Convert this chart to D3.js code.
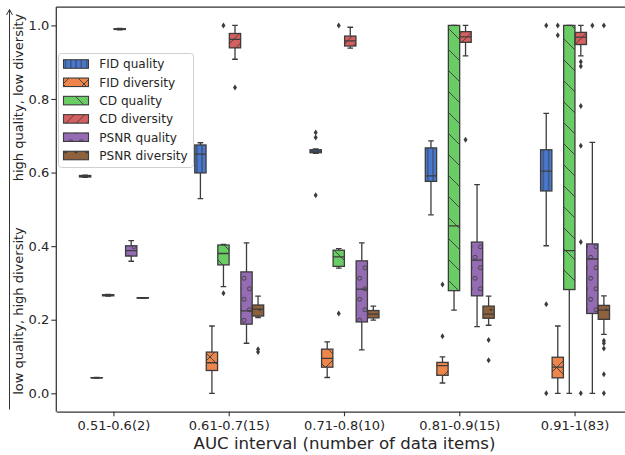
<!DOCTYPE html>
<html>
<head>
<meta charset="utf-8">
<script src="https://cdn.jsdelivr.net/npm/d3@7"></script>
<style>
  body { margin: 0; background: #fff; }
  svg text { font-family: "DejaVu Sans", sans-serif; fill: #262626; }
</style>
</head>
<body>
<div id="chart"></div>
<script>
// Categories and series
const groups = ["0.51-0.6(2)", "0.61-0.7(15)", "0.71-0.8(10)", "0.81-0.9(15)", "0.91-1(83)"];
const seriesNames = ["FID quality", "FID diversity", "CD quality", "CD diversity", "PSNR quality", "PSNR diversity"];
const seriesColors = ["#4878d0", "#ee854a", "#6acc64", "#d65f5f", "#956cb4", "#8c613c"];
const seriesHatch = ["vert", "cross", "back", "fwd", "circ", "dot"];

// box stats per group: [whisker low, q1, median, q3, whisker high]
const fidQuality = [
    [0.587, 0.588, 0.590, 0.592, 0.593],
    [0.529, 0.599, 0.650, 0.675, 0.681],
    [0.652, 0.654, 0.658, 0.662, 0.664],
    [0.485, 0.576, 0.591, 0.667, 0.686],
    [0.401, 0.550, 0.604, 0.662, 0.761]
];
const fidDiversity = [
    [0.0415, 0.042, 0.042, 0.0425, 0.043],
    [0.000, 0.062, 0.083, 0.112, 0.183],
    [0.043, 0.071, 0.095, 0.120, 0.140],
    [0.028, 0.049, 0.075, 0.084, 0.099],
    [0.000, 0.042, 0.071, 0.098, 0.183]
];
const cdQuality = [
    [0.264, 0.265, 0.266, 0.268, 0.269],
    [0.290, 0.349, 0.380, 0.403, 0.405],
    [0.340, 0.345, 0.371, 0.389, 0.393],
    [0.226, 0.279, 0.455, 1.000, 1.000],
    [0.000, 0.282, 0.388, 1.000, 1.000]
];
const cdDiversity = [
    [0.988, 0.989, 0.990, 0.991, 0.992],
    [0.908, 0.939, 0.962, 0.978, 1.000],
    [0.938, 0.944, 0.958, 0.971, 0.995],
    [0.917, 0.954, 0.969, 0.983, 1.000],
    [0.917, 0.948, 0.968, 0.981, 1.000]
];
const psnrQuality = [
    [0.359, 0.373, 0.388, 0.401, 0.415],
    [0.136, 0.188, 0.224, 0.330, 0.409],
    [0.118, 0.194, 0.283, 0.360, 0.409],
    [0.181, 0.265, 0.362, 0.411, 0.567],
    [0.000, 0.217, 0.365, 0.406, 0.682]
];
const psnrDiversity = [
    [0.258, 0.259, 0.259, 0.260, 0.260],
    [0.206, 0.210, 0.229, 0.240, 0.264],
    [0.199, 0.205, 0.215, 0.225, 0.237],
    [0.185, 0.204, 0.215, 0.237, 0.264],
    [0.160, 0.201, 0.226, 0.239, 0.265]
];

// outliers per group
const fidQualityOut = [[], [], [0.709, 0.695, 0.538], [], [1.0, 0.242, 0.0]];
const fidDiversityOut = [[], [], [], [0.155, 0.296], [1.0, 0.973]];
const cdQualityOut = [[], [0.272, 1.0], [0.217, 1.0], [], []];
const cdDiversityOut = [[], [0.831], [], [0.689], [0.901, 0.889, 0.781, 0.673, 0.411, 0.0]];
const psnrQualityOut = [[], [], [], [], [1.0]];
const psnrDiversityOut = [[], [0.120, 0.112], [], [0.145, 0.090], [1.0, 0.143, 0.136, 0.122, 0.052, 0.0]];

const yTicks = [0, 0.2, 0.4, 0.6, 0.8, 1.0];

const stats = [fidQuality, fidDiversity, cdQuality, cdDiversity, psnrQuality, psnrDiversity];
const outs = [fidQualityOut, fidDiversityOut, cdQualityOut, cdDiversityOut, psnrQualityOut, psnrDiversityOut];

const width = 625, height = 455;
const plot = {left: 56.3, right: 632.7, top: 7, bottom: 411.7};
const edge = "#3c3c3c";

const svg = d3.select("#chart").append("svg")
    .attr("width", width)
    .attr("height", height);

// hatch patterns
const defs = svg.append("defs");
function pattern(id, w, h) {
    return defs.append("pattern").attr("id", id)
        .attr("patternUnits", "userSpaceOnUse")
        .attr("width", w).attr("height", h);
}
const hs = {stroke: edge, "stroke-width": 0.9, fill: "none"};
function styled(sel, s) { Object.entries(s).forEach(([k, v]) => sel.attr(k, v)); return sel; }

styled(pattern("vert", 5.25, 5.25).append("path").attr("d", "M2.6,0V5.25"), hs);
styled(pattern("cross", 21, 21).append("path")
    .attr("d", "M0,0L21,21M0,21L21,0M-1,-1L1,1M20,20L22,22M-1,22L1,20M20,1L22,-1"), hs);
styled(pattern("back", 21, 21).append("path")
    .attr("d", "M0,0L21,21M-1,20L1,22M20,-1L22,1"), hs);
styled(pattern("fwd", 10.5, 10.5).append("path")
    .attr("d", "M0,10.5L10.5,0M-1,1L1,-1M9.5,11.5L11.5,9.5"), hs);
const pc = pattern("circ", 10.5, 21);
[[2.6, 5.25], [7.9, 15.75]].forEach(p => {
    styled(pc.append("circle").attr("cx", p[0]).attr("cy", p[1]).attr("r", 2), hs);
});
const pd = pattern("dot", 10.5, 21);
[[2.6, 5.25], [7.9, 15.75]].forEach(p => {
    pd.append("circle").attr("cx", p[0]).attr("cy", p[1]).attr("r", 1.3).attr("fill", edge);
});

// scales
const x = d3.scaleBand().domain(groups).range([plot.left, plot.right]).padding(0);
const bw = x.bandwidth();
const xHue = d3.scaleBand().domain(seriesNames).range([-0.3 * bw, 0.3 * bw]);
const boxW = xHue.bandwidth() * 0.98;
const y = d3.scaleLinear().domain([-0.05, 1.05]).range([plot.bottom, plot.top]);

const clipId = "plotclip";
defs.append("clipPath").attr("id", clipId).append("rect")
    .attr("x", plot.left).attr("y", plot.top)
    .attr("width", plot.right - plot.left).attr("height", plot.bottom - plot.top);

const g = svg.append("g").attr("clip-path", `url(#${clipId})`);

seriesNames.forEach((name, si) => {
    groups.forEach((grp, gi) => {
        const [lo, q1, med, q3, hi] = stats[si][gi];
        const cx = x(grp) + bw / 2 + xHue(name) + xHue.bandwidth() / 2;
        const bx = cx - boxW / 2;
        const box = g.append("g");

        // whiskers
        box.append("line").attr("x1", cx).attr("x2", cx).attr("y1", y(q3)).attr("y2", y(hi))
            .attr("stroke", edge).attr("stroke-width", 1.3);
        box.append("line").attr("x1", cx).attr("x2", cx).attr("y1", y(q1)).attr("y2", y(lo))
            .attr("stroke", edge).attr("stroke-width", 1.3);
        [lo, hi].forEach(v => {
            box.append("line").attr("x1", cx - boxW / 4).attr("x2", cx + boxW / 4)
                .attr("y1", y(v)).attr("y2", y(v))
                .attr("stroke", edge).attr("stroke-width", 1.3);
        });

        // box body, hatch, outline
        const bh = Math.max(y(q1) - y(q3), 0);
        box.append("rect").attr("x", bx).attr("y", y(q3)).attr("width", boxW).attr("height", bh)
            .attr("fill", seriesColors[si]);
        box.append("rect").attr("x", bx).attr("y", y(q3)).attr("width", boxW).attr("height", bh)
            .attr("fill", `url(#${seriesHatch[si]})`);
        box.append("rect").attr("x", bx).attr("y", y(q3)).attr("width", boxW).attr("height", bh)
            .attr("fill", "none").attr("stroke", edge).attr("stroke-width", 1.3);

        // median
        box.append("line").attr("x1", bx).attr("x2", bx + boxW).attr("y1", y(med)).attr("y2", y(med))
            .attr("stroke", edge).attr("stroke-width", 1.3);

        // fliers
        outs[si][gi].forEach(v => {
            const py = y(v);
            box.append("path")
                .attr("d", `M${cx},${py - 3}L${cx + 2},${py}L${cx},${py + 3}L${cx - 2},${py}Z`)
                .attr("fill", edge);
        });
    });
});

// axes
const yAxis = svg.append("g")
    .attr("transform", `translate(${plot.left},0)`)
    .call(d3.axisLeft(y).tickValues(yTicks).tickFormat(d3.format(".1f"))
        .tickSize(5).tickPadding(2).tickSizeOuter(0));
const xAxis = svg.append("g")
    .attr("transform", `translate(0,${plot.bottom})`)
    .call(d3.axisBottom(x).tickSize(4.5).tickPadding(5).tickSizeOuter(0));

[yAxis, xAxis].forEach(a => {
    a.selectAll("text").style("font-size", "13px").attr("fill", "#262626");
    a.selectAll("line").attr("stroke", "#333").attr("stroke-width", 1.1);
    a.select(".domain").attr("stroke", "#333").attr("stroke-width", 1.25);
});
yAxis.select(".domain").attr("d", `M0,${plot.bottom}V${plot.top}`);

// top spine
svg.append("line").attr("x1", plot.left).attr("x2", plot.right)
    .attr("y1", plot.top).attr("y2", plot.top)
    .attr("stroke", "#333").attr("stroke-width", 1.25);

// x label
svg.append("text")
    .attr("x", (plot.left + plot.right) / 2).attr("y", 449)
    .attr("text-anchor", "middle")
    .style("font-size", "16.6px")
    .text("AUC interval (number of data items)");

// y labels with arrow
svg.append("text")
    .attr("transform", `translate(23,97.5) rotate(-90)`)
    .attr("text-anchor", "middle")
    .style("font-size", "13px")
    .text("high quality, low diversity");
svg.append("text")
    .attr("transform", `translate(23,311) rotate(-90)`)
    .attr("text-anchor", "middle")
    .style("font-size", "13px")
    .text("low quality, high diversity");
svg.append("line").attr("x1", 9.5).attr("x2", 9.5).attr("y1", 409.5).attr("y2", 10)
    .attr("stroke", "#333").attr("stroke-width", 1);
svg.append("path").attr("d", "M6.5,15L9.5,9.5L12.5,15")
    .attr("fill", "none").attr("stroke", "#333").attr("stroke-width", 1);

// legend
const legend = svg.append("g");
legend.append("rect")
    .attr("x", 58.5).attr("y", 53.5).attr("width", 135).attr("height", 114).attr("rx", 3)
    .attr("fill", "#fff").attr("fill-opacity", 0.8)
    .attr("stroke", "#d0d0d0").attr("stroke-width", 1);
seriesNames.forEach((name, i) => {
    const cy = 64 + i * 18.3;
    const row = legend.append("g");
    row.append("rect").attr("x", 63.5).attr("y", cy - 4.25).attr("width", 25).attr("height", 8.5)
        .attr("fill", seriesColors[i]);
    row.append("rect").attr("x", 63.5).attr("y", cy - 4.25).attr("width", 25).attr("height", 8.5)
        .attr("fill", `url(#${seriesHatch[i]})`)
        .attr("stroke", edge).attr("stroke-width", 1.1);
    row.append("text").attr("x", 99.3).attr("y", cy + 4.3)
        .style("font-size", "12.1px")
        .text(name);
});
</script>
</body>
</html>
